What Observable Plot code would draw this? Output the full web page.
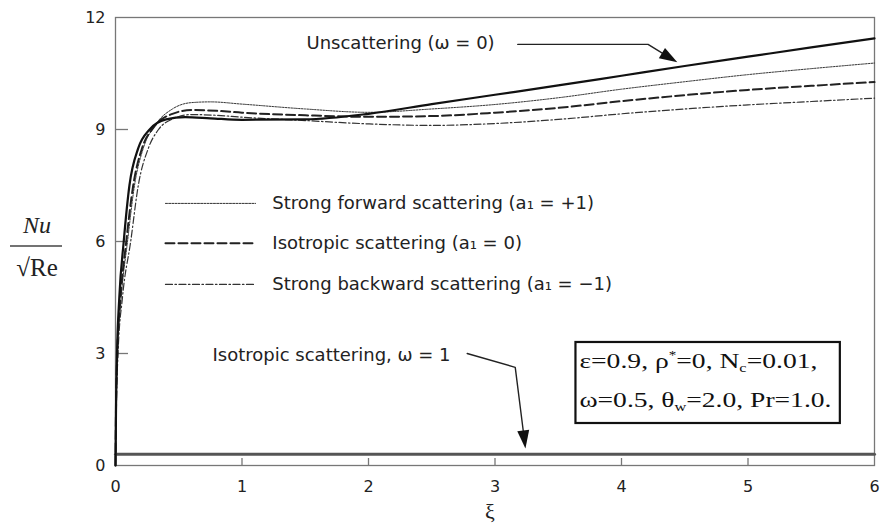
<!DOCTYPE html>
<html>
<head>
<meta charset="utf-8">
<script src="https://cdn.jsdelivr.net/npm/d3@7"></script>
<script src="https://cdn.jsdelivr.net/npm/@observablehq/plot@0.6"></script>
<style>
  html, body { margin: 0; padding: 0; background: #fff; }
</style>
</head>
<body>
<div id="chart"></div>
<script>
// ---- data ----
const xTicks = [0, 1, 2, 3, 4, 5, 6];
const yTicks = [0, 3, 6, 9, 12];

// Unscattering (omega = 0)
const xiW0 = [0, 0.004, 0.012, 0.03, 0.065, 0.11, 0.18, 0.27, 0.4, 0.55, 0.75, 1, 1.5, 2, 2.5, 3, 3.5, 4, 4.5, 5, 5.5, 6];
const nuW0 = [0, 1.5, 3, 4.5, 6, 7.5, 8.5, 9.0, 9.27, 9.33, 9.3, 9.26, 9.27, 9.42, 9.68, 9.93, 10.18, 10.44, 10.7, 10.95, 11.2, 11.44];
// Strong forward scattering (a1 = +1)
const xiFwd = [0, 0.005, 0.016, 0.045, 0.095, 0.15, 0.22, 0.31, 0.45, 0.6, 0.75, 1, 1.5, 2, 2.5, 3, 3.5, 4, 4.5, 5, 5.5, 6];
const nuFwd = [0, 1.5, 3, 4.5, 6, 7.5, 8.5, 9.1, 9.55, 9.72, 9.74, 9.68, 9.55, 9.46, 9.55, 9.67, 9.85, 10.08, 10.28, 10.47, 10.63, 10.78];
// Isotropic scattering (a1 = 0)
const xiIso = [0, 0.004, 0.014, 0.04, 0.085, 0.14, 0.21, 0.3, 0.45, 0.6, 0.8, 1, 1.5, 2, 2.5, 3, 3.5, 4, 4.5, 5, 5.5, 6];
const nuIso = [0, 1.5, 3, 4.5, 6, 7.5, 8.5, 9.05, 9.42, 9.52, 9.5, 9.45, 9.38, 9.34, 9.36, 9.45, 9.58, 9.76, 9.92, 10.06, 10.17, 10.27];
// Strong backward scattering (a1 = -1)
const xiBwd = [0, 0.006, 0.02, 0.055, 0.12, 0.18, 0.26, 0.34, 0.45, 0.6, 0.8, 1, 1.5, 2, 2.5, 3, 3.5, 4, 4.5, 5, 5.5, 6];
const nuBwd = [0, 1.5, 3, 4.5, 6, 7.5, 8.5, 9.0, 9.28, 9.4, 9.38, 9.33, 9.24, 9.15, 9.11, 9.16, 9.27, 9.42, 9.55, 9.66, 9.75, 9.84];
// Isotropic scattering, omega = 1
const xiW1 = [0, 6];
const nuW1 = [0.3, 0.3];

// legend labels
const legendLabels = [
  "Strong forward scattering (a\u2081 = +1)",
  "Isotropic scattering (a\u2081 = 0)",
  "Strong backward scattering (a\u2081 = \u22121)"
];
const legendY = [7.02, 5.95, 4.85];
const legendLineX = [0.395, 1.107];
const legendTextX = 1.24;

// annotations (data coordinates)
const noteW0 = {text: "Unscattering (\u03c9 = 0)", x: 1.51, y: 11.3};
const arrowW0 = [[3.18, 11.28], [4.21, 11.28], [4.367, 10.95]];
const headW0 = {x: 4.367, y: 10.95, rotate: 121};
const noteW1 = {text: "Isotropic scattering, \u03c9 = 1", x: 0.767, y: 2.95};
const arrowW1 = [[2.78, 3.0], [3.16, 2.63], [3.23, 0.75]];
const headW1 = {x: 3.23, y: 0.75, rotate: 173};
const paramBox = {x1: 3.64, x2: 5.73, y1: 1.125, y2: 3.295};

// ---- build ----
const toRows = (xs, ys) => xs.map((x, i) => ({x, y: ys[i]}));
const styles = {
  w0:  {stroke: "#111", strokeWidth: 2.2},
  fwd: {stroke: "#333", strokeWidth: 1, strokeDasharray: "2,1.2"},
  iso: {stroke: "#222", strokeWidth: 2, strokeDasharray: "9,4"},
  bwd: {stroke: "#333", strokeWidth: 1.2, strokeDasharray: "7,2.5,1.5,2.5"},
  w1:  {stroke: "#555", strokeWidth: 3}
};
const legendStyles = [styles.fwd, styles.iso, styles.bwd];

const arrowHead = {
  draw(ctx) {
    ctx.moveTo(0, -11);
    ctx.lineTo(6, 7);
    ctx.lineTo(-6, 7);
    ctx.closePath();
  }
};

const W = 881, H = 525, mL = 115, mR = 7, mT = 17, mB = 60;
const plotW = W - mL - mR, plotH = H - mT - mB;

const legendMarks = legendStyles.map((s, i) =>
  Plot.line(legendLineX.map(x => ({x, y: legendY[i]})), {x: "x", y: "y", ...s})
);

const plot = Plot.plot({
  width: W, height: H,
  marginLeft: mL, marginRight: mR, marginTop: mT, marginBottom: mB,
  style: {fontFamily: "DejaVu Sans", fontSize: "16px", color: "#222", background: "#fff"},
  x: {domain: [0, 6]},
  y: {domain: [0, 12]},
  marks: [
    Plot.frame({stroke: "#777", strokeWidth: 1.3}),
    Plot.axisX(xTicks, {tickSize: 0, tickPadding: 15, tickFormat: d => String(d), fontSize: 16, label: null}),
    Plot.axisY(yTicks, {tickSize: 0, tickPadding: 10, tickFormat: d => String(d), fontSize: 16, label: null}),
    Plot.tickX(xTicks.slice(1, -1), {x: d => d, insetTop: plotH - 7, stroke: "#777", strokeWidth: 1.3}),
    Plot.tickY(yTicks.slice(1, -1), {y: d => d, insetRight: plotW - 13, stroke: "#777", strokeWidth: 1.3}),
    Plot.line(toRows(xiW1, nuW1), {x: "x", y: "y", ...styles.w1}),
    Plot.line(toRows(xiBwd, nuBwd), {x: "x", y: "y", curve: "monotone-x", ...styles.bwd}),
    Plot.line(toRows(xiFwd, nuFwd), {x: "x", y: "y", curve: "monotone-x", ...styles.fwd}),
    Plot.line(toRows(xiIso, nuIso), {x: "x", y: "y", curve: "monotone-x", ...styles.iso}),
    Plot.line(toRows(xiW0, nuW0), {x: "x", y: "y", curve: "monotone-x", ...styles.w0}),
    ...legendMarks,
    Plot.text(legendLabels, {x: legendTextX, y: (d, i) => legendY[i], text: d => d, textAnchor: "start", fontSize: 18, fill: "#222"}),
    Plot.text([noteW0, noteW1], {x: "x", y: "y", text: "text", textAnchor: "start", fontSize: 18, fill: "#222"}),
    Plot.line(arrowW0, {x: d => d[0], y: d => d[1], stroke: "#222", strokeWidth: 1.4}),
    Plot.line(arrowW1, {x: d => d[0], y: d => d[1], stroke: "#222", strokeWidth: 1.4}),
    Plot.dot([headW0, headW1], {x: "x", y: "y", rotate: "rotate", symbol: arrowHead, r: 6, fill: "#111", stroke: "none"}),
    Plot.rect([paramBox], {x1: "x1", x2: "x2", y1: "y1", y2: "y2", fill: "#fff", stroke: "#111", strokeWidth: 2.2})
  ]
});

document.getElementById("chart").appendChild(plot);

// ---- extra text with sub/superscripts ----
const svg = d3.select(plot);
const sx = plot.scale("x"), sy = plot.scale("y");
const serif = "'Liberation Serif', 'Times New Roman', serif";

function richText(x, y, parts, width) {
  const t = svg.append("text")
    .attr("x", x).attr("y", y)
    .attr("text-anchor", "start")
    .attr("font-family", serif).attr("font-size", 22).attr("fill", "#111");
  parts.forEach(p => {
    const ts = t.append("tspan").text(p.t);
    if (p.sub) ts.attr("font-size", 13).attr("dy", 4);
    if (p.sup) ts.attr("font-size", 12).attr("dy", -9);
    if (p.back) ts.attr("dy", p.back);
  });
  if (width) t.attr("textLength", width).attr("lengthAdjust", "spacingAndGlyphs");
  return t;
}
const bx = sx.apply(paramBox.x1) + 4;
richText(bx, sy.apply(2.6), [
  {t: "\u03b5=0.9, \u03c1"}, {t: "*", sup: true}, {t: "=0, N", back: 9}, {t: "c", sub: true}, {t: "=0.01,", back: -4}
], 238);
richText(bx, sy.apply(1.55), [
  {t: "\u03c9=0.5, \u03b8"}, {t: "w", sub: true}, {t: "=2.0, Pr=1.0.", back: -4}
], 252);

// y-axis label: Nu / sqrt(Re)
svg.append("text").attr("x", 37).attr("y", 233).attr("text-anchor", "middle")
  .attr("font-family", serif).attr("font-style", "italic").attr("font-size", 24).attr("fill", "#222")
  .text("Nu");
svg.append("line").attr("x1", 10).attr("x2", 62).attr("y1", 246).attr("y2", 246)
  .attr("stroke", "#444").attr("stroke-width", 1.6);
svg.append("text").attr("x", 37).attr("y", 276).attr("text-anchor", "middle")
  .attr("font-family", serif).attr("font-size", 25).attr("fill", "#222")
  .text("\u221aRe");
// x-axis label
svg.append("text").attr("x", 490).attr("y", 519).attr("text-anchor", "middle")
  .attr("font-family", serif).attr("font-size", 22).attr("fill", "#222")
  .text("\u03be");
</script>
</body>
</html>
